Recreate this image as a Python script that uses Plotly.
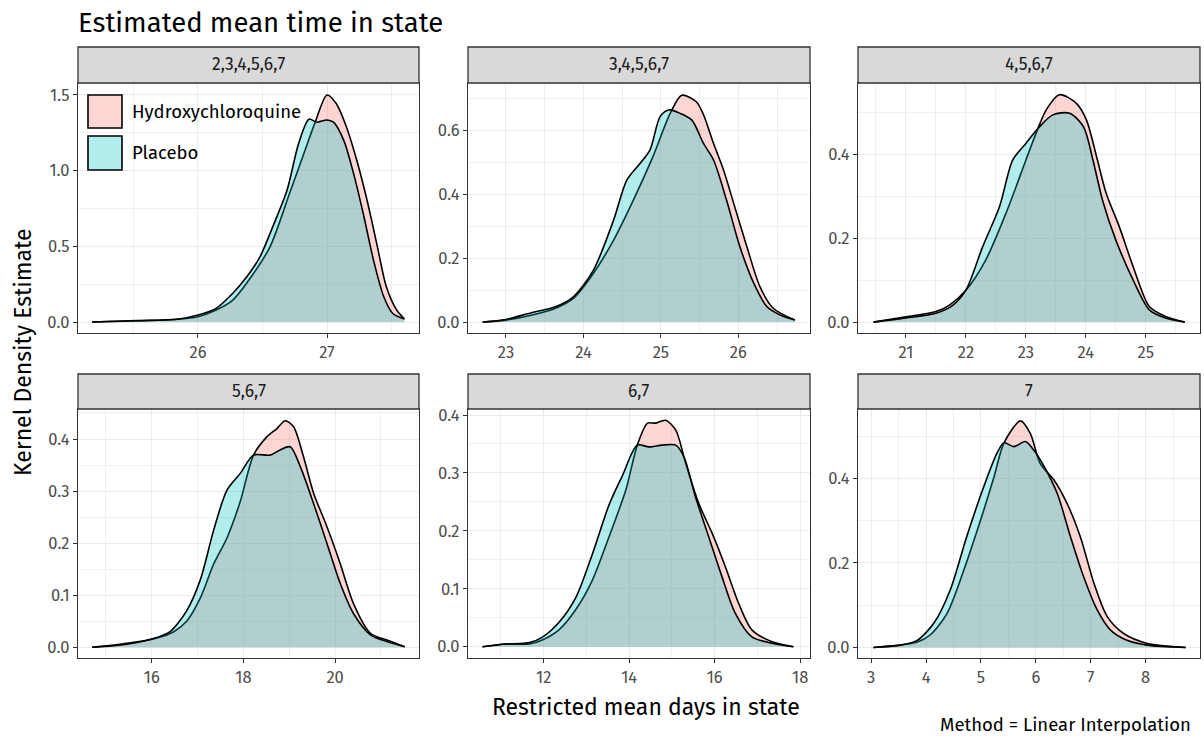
import plotly.graph_objects as go

TITLE = "Estimated mean time in state"
X_TITLE = "Restricted mean days in state"
Y_TITLE = "Kernel Density Estimate"
CAPTION = "Method = Linear Interpolation"
PANELS = ["2,3,4,5,6,7", "3,4,5,6,7", "4,5,6,7", "5,6,7", "6,7", "7"]
GROUPS = ["Hydroxychloroquine", "Placebo"]

# Panel 1: 2,3,4,5,6,7
p1_hcq_x = [25.18, 25.84, 26.0, 26.14, 26.27, 26.43, 26.56, 26.71, 26.84, 26.91, 27.0, 27.07, 27.15, 27.23, 27.31, 27.39, 27.46, 27.54, 27.60]
p1_hcq_y = [0.0, 0.018, 0.035, 0.079, 0.145, 0.32, 0.50, 0.85, 1.16, 1.324, 1.50, 1.445, 1.29, 1.07, 0.806, 0.50, 0.233, 0.079, 0.02]
p1_pla_x = [25.18, 25.53, 25.84, 26.0, 26.14, 26.27, 26.38, 26.48, 26.58, 26.69, 26.78, 26.86, 26.92, 27.0, 27.05, 27.13, 27.20, 27.28, 27.36, 27.44, 27.51, 27.60]
p1_pla_y = [0.0, 0.009, 0.018, 0.046, 0.09, 0.19, 0.30, 0.43, 0.63, 0.87, 1.18, 1.34, 1.32, 1.335, 1.32, 1.20, 1.0, 0.72, 0.41, 0.167, 0.056, 0.02]

# Panel 2: 3,4,5,6,7
p2_hcq_x = [22.70, 23.0, 23.34, 23.64, 23.87, 24.13, 24.39, 24.64, 24.90, 25.12, 25.27, 25.46, 25.55, 25.68, 25.81, 25.94, 26.11, 26.28, 26.45, 26.73]
p2_hcq_y = [0.0, 0.006, 0.022, 0.043, 0.074, 0.153, 0.257, 0.38, 0.52, 0.654, 0.711, 0.69, 0.65, 0.56, 0.476, 0.372, 0.236, 0.11, 0.043, 0.006]
p2_pla_x = [22.70, 23.0, 23.34, 23.64, 23.87, 24.13, 24.39, 24.56, 24.73, 24.86, 24.99, 25.10, 25.25, 25.40, 25.55, 25.68, 25.85, 26.02, 26.20, 26.37, 26.54, 26.73]
p2_pla_y = [0.0, 0.008, 0.03, 0.048, 0.079, 0.163, 0.32, 0.445, 0.497, 0.54, 0.644, 0.665, 0.654, 0.633, 0.56, 0.508, 0.38, 0.236, 0.121, 0.048, 0.022, 0.006]

# Panel 3: 4,5,6,7
p3_hcq_x = [20.46, 21.0, 21.5, 21.72, 22.0, 22.33, 22.67, 23.0, 23.17, 23.34, 23.56, 23.84, 24.01, 24.18, 24.34, 24.56, 24.79, 25.06, 25.34, 25.65]
p3_hcq_y = [0.0, 0.0127, 0.025, 0.04, 0.076, 0.148, 0.26, 0.386, 0.45, 0.506, 0.542, 0.522, 0.482, 0.394, 0.307, 0.227, 0.132, 0.037, 0.0127, 0.0]
p3_pla_x = [20.46, 21.0, 21.5, 21.78, 22.0, 22.28, 22.56, 22.78, 23.0, 23.23, 23.45, 23.73, 23.96, 24.12, 24.28, 24.50, 24.79, 25.06, 25.34, 25.65]
p3_pla_y = [0.0, 0.010, 0.021, 0.04, 0.076, 0.18, 0.275, 0.386, 0.426, 0.466, 0.494, 0.498, 0.466, 0.386, 0.29, 0.196, 0.10, 0.029, 0.009, 0.0]

# Panel 4: 5,6,7
p4_hcq_x = [14.70, 15.46, 16.11, 16.48, 16.76, 17.06, 17.35, 17.64, 17.93, 18.22, 18.51, 18.73, 18.91, 19.09, 19.31, 19.53, 19.82, 20.11, 20.40, 20.77, 21.13, 21.52]
p4_hcq_y = [0.0, 0.0077, 0.018, 0.03, 0.05, 0.095, 0.16, 0.21, 0.28, 0.369, 0.404, 0.42, 0.435, 0.424, 0.366, 0.296, 0.232, 0.161, 0.084, 0.027, 0.014, 0.001]
p4_pla_x = [14.70, 15.46, 16.11, 16.40, 16.76, 17.06, 17.35, 17.64, 17.93, 18.22, 18.58, 18.80, 19.02, 19.24, 19.53, 19.82, 20.11, 20.40, 20.77, 21.13, 21.52]
p4_pla_y = [0.0, 0.006, 0.019, 0.03, 0.07, 0.13, 0.225, 0.302, 0.334, 0.369, 0.369, 0.379, 0.385, 0.347, 0.276, 0.20, 0.123, 0.065, 0.024, 0.011, 0.001]

# Panel 5: 6,7
p5_hcq_x = [10.57, 11.13, 11.67, 11.98, 12.37, 12.76, 13.14, 13.53, 13.92, 14.19, 14.43, 14.62, 14.85, 15.09, 15.32, 15.63, 15.94, 16.25, 16.56, 16.87, 17.34, 17.84]
p5_hcq_y = [0.0, 0.0046, 0.0046, 0.012, 0.03, 0.065, 0.115, 0.19, 0.27, 0.348, 0.386, 0.386, 0.391, 0.374, 0.317, 0.247, 0.196, 0.138, 0.075, 0.029, 0.0086, 0.0]
p5_pla_x = [10.57, 11.13, 11.67, 11.98, 12.37, 12.76, 13.14, 13.53, 13.84, 14.19, 14.46, 14.77, 15.09, 15.28, 15.55, 15.86, 16.17, 16.48, 16.87, 17.34, 17.84]
p5_pla_y = [0.0, 0.0046, 0.007, 0.017, 0.043, 0.086, 0.16, 0.245, 0.295, 0.348, 0.345, 0.348, 0.348, 0.328, 0.259, 0.19, 0.121, 0.058, 0.017, 0.006, 0.0]

# Panel 6: 7
p6_hcq_x = [3.04, 3.53, 3.83, 4.08, 4.38, 4.68, 4.99, 5.23, 5.42, 5.72, 5.90, 6.08, 6.33, 6.57, 6.81, 7.06, 7.30, 7.60, 8.03, 8.73]
p6_hcq_y = [0.0, 0.0055, 0.012, 0.03, 0.08, 0.18, 0.30, 0.40, 0.484, 0.536, 0.506, 0.435, 0.396, 0.34, 0.262, 0.151, 0.073, 0.033, 0.0095, 0.0]
p6_pla_x = [3.04, 3.53, 3.83, 4.14, 4.44, 4.74, 5.05, 5.29, 5.42, 5.60, 5.81, 5.96, 6.15, 6.39, 6.63, 6.87, 7.12, 7.36, 7.66, 8.03, 8.73]
p6_pla_y = [0.0, 0.0055, 0.016, 0.057, 0.136, 0.262, 0.38, 0.459, 0.484, 0.475, 0.487, 0.467, 0.428, 0.364, 0.262, 0.167, 0.088, 0.041, 0.017, 0.0055, 0.0]

SERIES = [
    ((p1_hcq_x, p1_hcq_y), (p1_pla_x, p1_pla_y)),
    ((p2_hcq_x, p2_hcq_y), (p2_pla_x, p2_pla_y)),
    ((p3_hcq_x, p3_hcq_y), (p3_pla_x, p3_pla_y)),
    ((p4_hcq_x, p4_hcq_y), (p4_pla_x, p4_pla_y)),
    ((p5_hcq_x, p5_hcq_y), (p5_pla_x, p5_pla_y)),
    ((p6_hcq_x, p6_hcq_y), (p6_pla_x, p6_pla_y)),
]

FILLS = ["rgba(248,118,109,0.3)", "rgba(0,191,196,0.3)"]
FONT = "Fira Sans, Roboto, sans-serif"

W, H = 1204, 747
ML, MR, MT, MB = 78, 4, 47, 89
PW, PH = W - ML - MR, H - MT - MB


def px(x):
    return (x - ML) / PW


def py(y):
    return (H - MB - y) / PH


COLS = [(78, 419), (468, 810), (858, 1200)]
ROWS = [(83, 333, 47), (409, 658, 374)]

# axis ranges / tick spacing per panel (layout only)
XR = [(25.07, 27.713, 1, 0.5), (22.51, 26.925, 1, 0.5), (20.2, 25.905, 1, 0.5),
      (14.39, 21.83, 2, 1), (10.23, 18.23, 2, 1), (2.76, 8.99, 1, 0.5)]
YR = [(-0.0727, 1.579, 0.5, 0.25), (-0.0345, 0.7495, 0.2, 0.1), (-0.026, 0.570, 0.2, 0.1),
      (-0.0205, 0.4576, 0.1, 0.05), (-0.0195, 0.4104, 0.1, 0.05), (-0.025, 0.564, 0.2, 0.1)]

fig = go.Figure()
shapes = []
annotations = []
layout = {}

for i in range(6):
    r, c = divmod(i, 3)
    xa = "x" if i == 0 else f"x{i+1}"
    ya = "y" if i == 0 else f"y{i+1}"
    for g in range(2):
        xs, ys = SERIES[i][g]
        fig.add_trace(go.Scatter(
            x=xs, y=ys, xaxis=xa, yaxis=ya, mode="lines",
            line=dict(color="black", width=1.6, shape="spline", smoothing=0.8),
            fill="tozeroy", fillcolor=FILLS[g], name=GROUPS[g],
            showlegend=False, hoverinfo="skip"))
    x0, x1 = COLS[c]
    yt, yb, ys_top = ROWS[r]
    xr = XR[i]
    yr = YR[i]
    common = dict(showline=True, mirror=True, linecolor="#333333", linewidth=1.3,
                  ticks="outside", ticklen=4, tickcolor="#333333", tickwidth=1.1,
                  showgrid=True, gridcolor="#EBEBEB", gridwidth=1.1,
                  zeroline=False,
                  tickfont=dict(family=FONT, size=16.5, color="#4D4D4D"))
    layout["xaxis" if i == 0 else f"xaxis{i+1}"] = dict(
        domain=[px(x0), px(x1)], anchor=ya, range=[xr[0], xr[1]],
        tick0=0, dtick=xr[2],
        minor=dict(showgrid=True, gridcolor="#EFEFEF", gridwidth=0.6, tick0=0, dtick=xr[3], ticks=""),
        **common)
    layout["yaxis" if i == 0 else f"yaxis{i+1}"] = dict(
        domain=[py(yb), py(yt)], anchor=xa, range=[yr[0], yr[1]],
        tick0=0, dtick=yr[2], tickformat=".1f",
        minor=dict(showgrid=True, gridcolor="#EFEFEF", gridwidth=0.6, tick0=0, dtick=yr[3], ticks=""),
        **common)
    # strip
    shapes.append(dict(type="rect", xref="paper", yref="paper",
                       x0=px(x0), x1=px(x1), y0=py(yt), y1=py(ys_top),
                       fillcolor="#D9D9D9", line=dict(color="#333333", width=1.3)))
    annotations.append(dict(text=PANELS[i], xref="paper", yref="paper",
                            x=(px(x0) + px(x1)) / 2, y=(py(yt) + py(ys_top)) / 2,
                            showarrow=False, xanchor="center", yanchor="middle",
                            font=dict(family=FONT, size=17.5, color="#1A1A1A")))

# legend drawn inside the first panel
LEG = [(95, 128), (136, 170)]
for g in range(2):
    t, b = LEG[g]
    shapes.append(dict(type="rect", xref="paper", yref="paper",
                       x0=px(88), x1=px(122), y0=py(b), y1=py(t),
                       fillcolor=FILLS[g], line=dict(color="black", width=1.6)))
    annotations.append(dict(text=GROUPS[g], xref="paper", yref="paper",
                            x=px(130), y=py((t + b) / 2), showarrow=False,
                            xanchor="left", yanchor="middle",
                            font=dict(family=FONT, size=18.5, color="black")))

annotations.append(dict(text=TITLE, xref="paper", yref="paper", x=px(76), y=py(22),
                        showarrow=False, xanchor="left", yanchor="middle",
                        font=dict(family=FONT, size=27.5, color="black")))
annotations.append(dict(text=X_TITLE, xref="paper", yref="paper", x=px(646), y=py(707),
                        showarrow=False, xanchor="center", yanchor="middle",
                        font=dict(family=FONT, size=23, color="black")))
annotations.append(dict(text=Y_TITLE, xref="paper", yref="paper", x=px(23), y=py(352),
                        showarrow=False, xanchor="center", yanchor="middle", textangle=-90,
                        font=dict(family=FONT, size=23, color="black")))
annotations.append(dict(text=CAPTION, xref="paper", yref="paper", x=px(1193), y=py(725),
                        showarrow=False, xanchor="right", yanchor="middle",
                        font=dict(family=FONT, size=18.5, color="black")))

fig.update_layout(width=W, height=H, autosize=False,
                  margin=dict(l=ML, r=MR, t=MT, b=MB),
                  paper_bgcolor="white", plot_bgcolor="white",
                  showlegend=False, shapes=shapes, annotations=annotations,
                  font=dict(family=FONT), **layout)

fig.write_html("out.html")
